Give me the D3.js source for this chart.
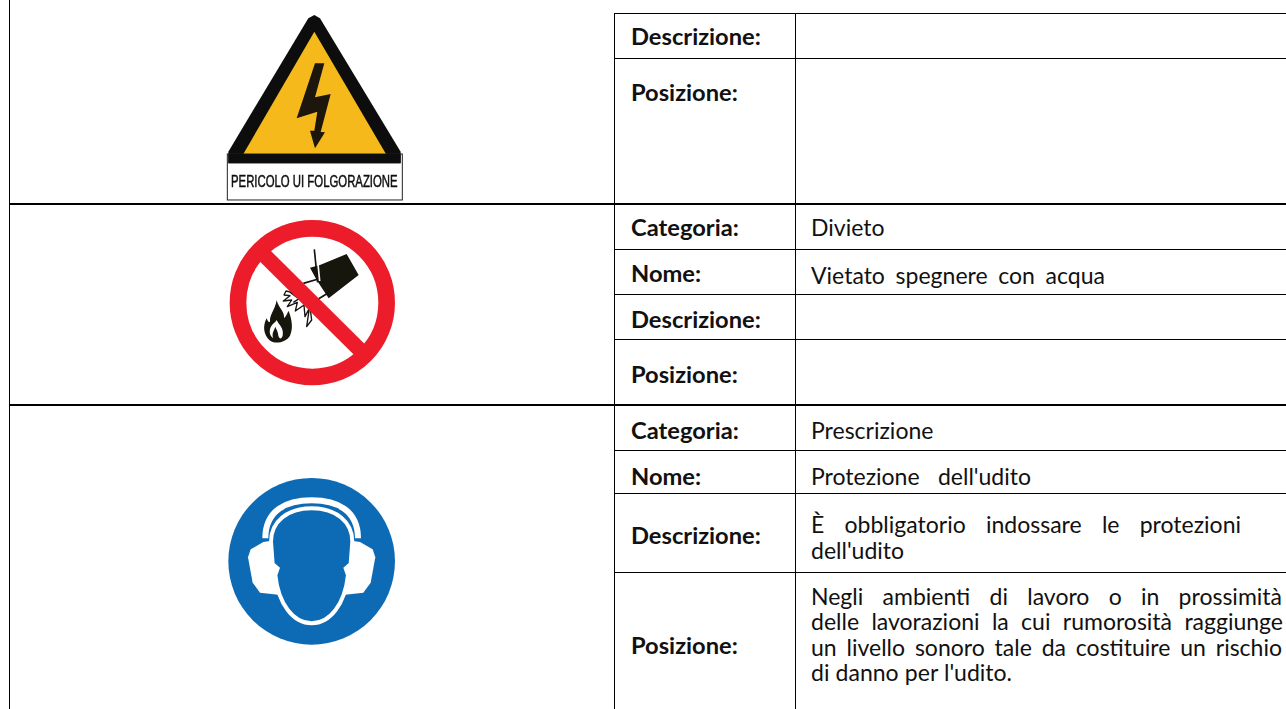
<!DOCTYPE html>
<html lang="it">
<head>
<meta charset="UTF-8">
<script src="https://cdn.jsdelivr.net/npm/d3@7/dist/d3.min.js"></script>
<style>
  html, body { margin: 0; background: #fff; }
  svg { display: block; }
  text { font-family: Lato, "Open Sans", sans-serif; fill: #111; }
</style>
</head>
<body>
<div id="chart"></div>
<script>
    // table content
    const LABELS = ["Descrizione:", "Posizione:", "Categoria:", "Nome:", "Descrizione:", "Posizione:", "Categoria:", "Nome:", "Descrizione:", "Posizione:"];
    const VALUES = [
        [], [],
        ["Divieto"],
        ["Vietato spegnere con acqua"],
        [], [],
        ["Prescrizione"],
        ["Protezione dell'udito"],
        ["È obbligatorio indossare le protezioni", "dell'udito"],
        ["Negli ambienti di lavoro o in prossimità", "delle lavorazioni la cui rumorosità raggiunge", "un livello sonoro tale da costituire un rischio", "di danno per l'udito."]
    ];
    const SIGN_CAPTION = "PERICOLO UI FOLGORAZIONE";

    // layout, measured off the page
    const WIDTH = 1286, HEIGHT = 709;
    const ROW_LINES = [13.5, 58.5, 204, 249.5, 294.5, 339.5, 405, 450.5, 493.5, 572.5, 709];
    const THICK = [204, 405];
    const COL_LEFT = 9.5, COL_A = 614.5, COL_B = 795.5;
    const LABEL_X = 631, VALUE_X = 811;
    const LABEL_SIZE = 23.7, VALUE_SIZE = 23;
    const LABEL_BASE = [45, 101, 236, 282, 328, 383, 439, 485, 544, 654];
    const VALUE_BASE = [[], [], [236], [284], [], [], [439], [485], [533, 559], [605, 630, 656, 681]];
    const VALUE_WIDTH = [[], [], [75], [294], [], [], [102], [220], [430, 77], [471, 472, 471, 201]];

    const svg = d3.select("#chart").append("svg").attr("width", WIDTH).attr("height", HEIGHT);

    svg.append("defs").append("filter").attr("id", "soft")
        .append("feGaussianBlur").attr("stdDeviation", 0.45);

    // ruling
    const lines = svg.append("g").attr("stroke", "#000");
    ROW_LINES.slice(0, -1).forEach((y, i) => {
        const heavy = THICK.includes(y);
        lines.append("line")
            .attr("x1", heavy ? COL_LEFT : COL_A).attr("x2", WIDTH)
            .attr("y1", y).attr("y2", y)
            .attr("stroke-width", heavy ? 2 : 1);
    });
    [[COL_LEFT, 0], [COL_A, 13], [COL_B, 13]].forEach(c => {
        lines.append("line").attr("x1", c[0]).attr("x2", c[0])
            .attr("y1", c[1]).attr("y2", HEIGHT).attr("stroke-width", 1);
    });

    // left labels
    svg.append("g").selectAll("text").data(LABELS).enter().append("text")
        .attr("x", LABEL_X)
        .attr("y", (d, i) => LABEL_BASE[i])
        .attr("font-size", LABEL_SIZE)
        .attr("font-weight", 700)
        .text(d => d);

    // right values, one text per line
    const valueLines = VALUES.flatMap((rows, r) => rows.map((t, l) => ({t: t, y: VALUE_BASE[r][l], w: VALUE_WIDTH[r][l]})));
    svg.append("g").selectAll("text").data(valueLines).enter().append("text")
        .attr("x", VALUE_X)
        .attr("y", d => d.y)
        .attr("font-size", VALUE_SIZE)
        .text(d => d.t)
        .each(function (d) {
            // stretch only the word gaps, like the justified cell in the original
            const gaps = d.t.split(" ").length - 1;
            const extra = d.w - this.getComputedTextLength();
            if (gaps > 0) d3.select(this).attr("word-spacing", extra / gaps);
        });

    // WARNING SIGN (drawn in 3x units, origin 200,0)
    const warn = svg.append("g").attr("transform", "translate(200,0) scale(0.3333)").attr("filter", "url(#soft)");
    warn.append("rect").attr("x", 58).attr("y", 30).attr("width", 570).attr("height", 578).attr("fill", "#fff");
    warn.append("path").attr("d", "M343,45 L360,55 L602,455 L602,490 L85,490 L85,455 L325,55 Z").attr("fill", "#0c0c0c");
    warn.append("path").attr("d", "M343,95 L558,462 L130,462 Z").attr("fill", "#f5b91c");
    warn.append("path").attr("d", "M345,190 L373,190 L345,292 L392,282 L362,396 L375,397 L345,445 L330,392 L343,392 L352,335 L290,355 Z").attr("fill", "#1a1510");
    warn.append("rect").attr("x", 82).attr("y", 462).attr("width", 525).attr("height", 138)
        .attr("fill", "none").attr("stroke", "#222").attr("stroke-width", 3);
    warn.append("path").attr("d", "M85,462 L602,462 L602,490 L85,490 Z").attr("fill", "#0c0c0c");
    warn.append("text").attr("x", 343).attr("y", 562).attr("text-anchor", "middle")
        .attr("font-size", 48).attr("textLength", 500).attr("lengthAdjust", "spacingAndGlyphs")
        .attr("stroke", "#111").attr("stroke-width", 1.5)
        .style("font-family", "'Liberation Sans'")
        .text(SIGN_CAPTION);

    // PROHIBITION SIGN (3x units, origin 210,205)
    const ban = svg.append("g").attr("transform", "translate(210,205) scale(0.3333)").attr("filter", "url(#soft)");
    const RED = "#ed1c2b";
    // bucket, handle, water, flame go under the bar
    ban.append("path").attr("d", "M300,188 L330,180 L410,147 L446,210 L356,280 L320,225 Z").attr("fill", "#17120f");
    ban.append("path").attr("d", "M313,133 L323,232 M280,235 L325,222 M325,282 L358,262").attr("fill", "none").attr("stroke", "#17120f").attr("stroke-width", 5);
    ban.append("path").attr("d", "M320,135 L329,228").attr("fill", "none").attr("stroke", "#fff").attr("stroke-width", 5);
    ban.append("path").attr("d", "M228,258 L222,270 L240,272 L220,288 L245,285 L232,305 L262,292 L256,318 L282,300 L285,335 L298,310 L290,365 L305,345 L300,305 L282,285 L262,268 L245,262 Z M240,262 L262,278 M250,292 L272,278")
        .attr("fill", "none").attr("stroke", "#17120f").attr("stroke-width", 4).attr("stroke-linejoin", "round");
    ban.append("path").attr("d", "M200,286 C206,310 225,320 222,340 C232,330 232,322 236,318 C246,345 250,370 240,392 C228,412 195,420 178,405 C160,388 158,362 170,340 C174,352 178,352 180,350 C178,330 195,315 200,286 Z").attr("fill", "#17120f");
    ban.append("path").attr("d", "M200,345 C208,362 222,368 218,392 C214,404 208,402 205,392 C204,378 198,372 196,365 C192,378 184,385 190,400 C176,392 176,370 188,358 C194,352 198,350 200,345 Z").attr("fill", "#fff");
    ban.append("circle").attr("cx", 307).attr("cy", 293).attr("r", 223).attr("fill", "none").attr("stroke", RED).attr("stroke-width", 50);
    ban.append("line").attr("x1", 140).attr("y1", 128).attr("x2", 470).attr("y2", 455).attr("stroke", RED).attr("stroke-width", 46);

    // MANDATORY SIGN (3x units, origin 210,460)
    const must = svg.append("g").attr("transform", "translate(210,460) scale(0.3333)").attr("filter", "url(#soft)");
    const BLUE = "#0f6ab4";
    must.append("circle").attr("cx", 305).attr("cy", 304).attr("r", 250).attr("fill", BLUE);
    // band
    must.append("path").attr("d", "M166,235 C166,150 230,121 305,121 C380,121 444,150 444,235").attr("fill", "none").attr("stroke", "#fff").attr("stroke-width", 18);
    // ear cups
    must.append("path").attr("d", "M160,246 L122,268 L114,292 L128,368 L150,398 L205,404 L200,240 Z").attr("fill", "#fff");
    must.append("path").attr("d", "M450,246 L488,268 L496,292 L482,368 L460,398 L405,404 L410,240 Z").attr("fill", "#fff");
    // head
    must.append("path").attr("d", "M305,145 C232,145 183,185 183,245 L188,312 L203,325 L196,345 C205,432 250,490 305,490 C360,490 405,432 414,345 L407,325 L422,312 L427,245 C427,185 378,145 305,145 Z")
        .attr("fill", BLUE).attr("stroke", "#fff").attr("stroke-width", 12);
</script>
</body>
</html>
